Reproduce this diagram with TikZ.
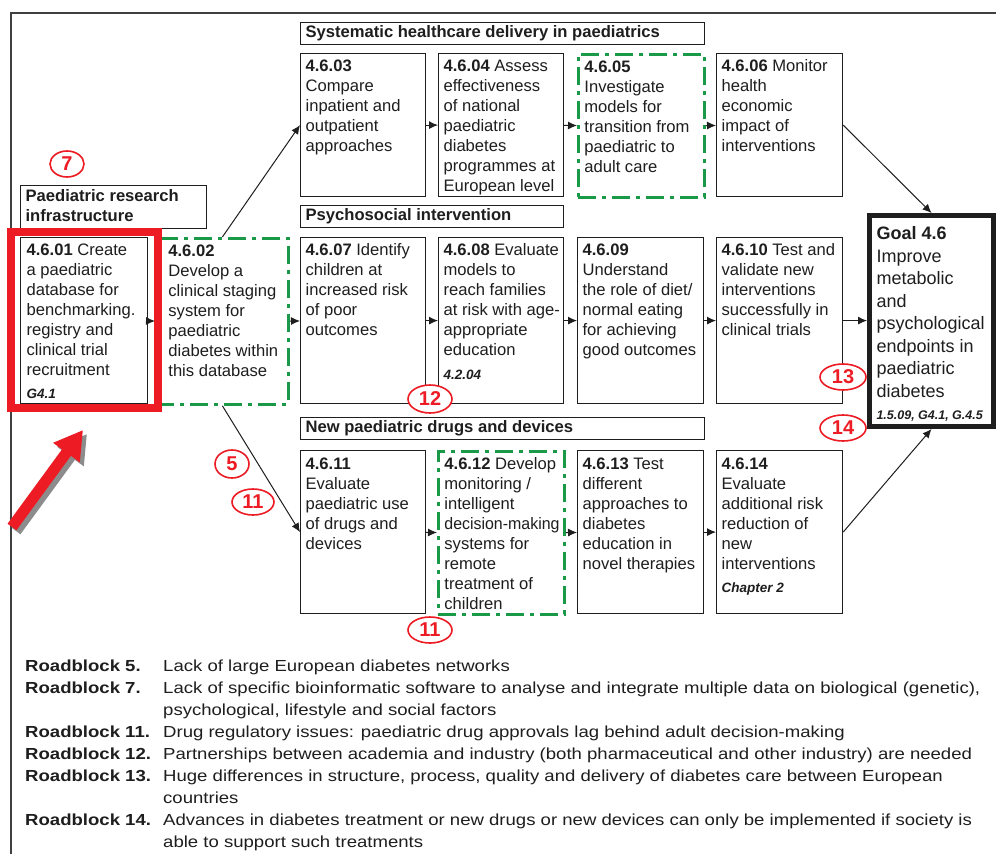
\documentclass[tikz,border=0pt]{standalone}
\usepackage{fontspec}
\setmainfont{Liberation Sans}
\newfontfamily\legendfont[FakeStretch=1.16]{Liberation Sans}
\usetikzlibrary{arrows.meta,shapes.geometric}
\definecolor{rbred}{HTML}{ED1C24}
\definecolor{rbgreen}{HTML}{1A9A48}
\definecolor{ink}{HTML}{1E1E1E}
% box text: #1 width, #2 height, #3 left offset, #4 first-baseline strut, #5 lines
\newcommand{\bxt}[5]{\begin{minipage}[c][#2][t]{#1}\hspace*{#3}\begin{tabular}[t]{@{}l@{}}\rule{0pt}{#4}#5\end{tabular}\end{minipage}}
\newcommand{\hdrt}[3]{\begin{minipage}[c][#2][c]{#1}\hspace*{5pt}\begin{tabular}{@{}l@{}}#3\end{tabular}\end{minipage}}
\newcommand{\refsty}[1]{{\fontsize{13.5}{16}\selectfont\bfseries\itshape #1}}
\newcommand{\goalrefsty}[1]{{\fontsize{12.5}{16}\selectfont\bfseries\itshape #1}}
\begin{document}
\begin{tikzpicture}[x=1pt,y=-1pt,
  box/.style={draw=ink, line width=1.2pt, inner sep=0pt, anchor=north west, text=ink,
              font=\fontsize{16.6}{20}\selectfont},
  gbox/.style={box, draw=rbgreen, line width=2.8pt, dash pattern=on 18pt off 6pt on 4pt off 6pt},
  goalbox/.style={box, line width=5pt, font=\fontsize{18}{22.5}\selectfont},
  hdr/.style={draw=ink, line width=1.2pt, inner sep=0pt, anchor=north west, text=ink,
              font=\bfseries\fontsize{16.6}{20}\selectfont},
  rb/.style={ellipse, draw=rbred, line width=1.6pt, fill=white, text=rbred, inner sep=0pt,
             font=\bfseries\fontsize{20}{20}\selectfont},
  arr/.style={draw=ink, line width=1pt, -{Latex[length=9pt,width=8pt]}},
  bigarrow/.style={line width=11pt, -{Triangle[length=28pt,width=31pt]}}
]
\useasboundingbox (0,0) rectangle (996,854);
\fill[white] (0,0) rectangle (996,854);
% outer frame
\draw[line width=2pt, draw=black!75] (1002,13) -- (10.5,13) -- (10.5,862);

% headers
\node[hdr] (h0) at (20,185) {\hdrt{186pt}{43pt}{Paediatric research\\infrastructure}};
\node[hdr] (h1) at (300,22) {\hdrt{404pt}{22pt}{Systematic healthcare delivery in paediatrics}};
\node[hdr] (h2) at (300,205) {\hdrt{263pt}{22pt}{Psychosocial intervention}};
\node[hdr] (h3) at (300,417) {\hdrt{404pt}{22pt}{New paediatric drugs and devices}};

% top row
\node[box] (n03) at (300,53) {\bxt{125pt}{143pt}{5pt}{18pt}{\textbf{4.6.03}\\Compare\\inpatient and\\outpatient\\approaches}};
\node[box] (n04) at (438,53) {\bxt{125pt}{143pt}{5pt}{18pt}{\textbf{4.6.04} Assess\\effectiveness\\of national\\paediatric\\diabetes\\programmes at\\European level}};
\node[gbox] (n05) at (577,53) {\bxt{126pt}{143pt}{6pt}{18pt}{\textbf{4.6.05}\\Investigate\\models for\\transition from\\paediatric to\\adult care}};
\node[box] (n06) at (716,53) {\bxt{126pt}{143pt}{5pt}{18pt}{\textbf{4.6.06} Monitor\\health\\economic\\impact of\\interventions}};

% middle row
\node[box] (n01) at (20,237) {\bxt{127pt}{166pt}{6pt}{18pt}{\textbf{4.6.01} Create\\a paediatric\\database for\\benchmarking.\\registry and\\clinical trial\\recruitment\\[3pt]\refsty{G4.1}}};
\node[gbox] (n02) at (155,237) {\bxt{132pt}{166pt}{12pt}{18pt}{\textbf{4.6.02}\\Develop a\\clinical staging\\system for\\paediatric\\diabetes within\\this database}};
\node[box] (n07) at (300,237) {\bxt{125pt}{166pt}{5pt}{18pt}{\textbf{4.6.07} Identify\\children at\\increased risk\\of poor\\outcomes}};
\node[box] (n08) at (438,237) {\bxt{125pt}{166pt}{5pt}{18pt}{\textbf{4.6.08} Evaluate\\models to\\reach families\\at risk with age-\\appropriate\\education\\[4pt]\refsty{4.2.04}}};
\node[box] (n09) at (577,237) {\bxt{126pt}{166pt}{5pt}{18pt}{\textbf{4.6.09}\\Understand\\the role of diet/\\normal eating\\for achieving\\good outcomes}};
\node[box] (n10) at (716,237) {\bxt{126pt}{166pt}{5pt}{18pt}{\textbf{4.6.10} Test and\\validate new\\interventions\\successfully in\\clinical trials}};

% bottom row
\node[box] (n11) at (300,450) {\bxt{125pt}{163pt}{5pt}{18.5pt}{\textbf{4.6.11}\\Evaluate\\paediatric use\\of drugs and\\devices}};
\node[gbox] (n12) at (437,450) {\bxt{126pt}{163pt}{6pt}{18.5pt}{\textbf{4.6.12} Develop\\monitoring /\\intelligent\\\scalebox{0.96}[1]{decision-making}\\systems for\\remote\\treatment of\\children}};
\node[box] (n13) at (577,450) {\bxt{126pt}{163pt}{5pt}{18.5pt}{\textbf{4.6.13} Test\\different\\approaches to\\diabetes\\education in\\novel therapies}};
\node[box] (n14) at (716,450) {\bxt{126pt}{163pt}{5pt}{18.5pt}{\textbf{4.6.14}\\Evaluate\\additional risk\\reduction of\\new\\interventions\\[3pt]\refsty{Chapter 2}}};

% goal
\node[goalbox] (goal) at (867,213) {\bxt{124pt}{211pt}{7pt}{24pt}{\textbf{Goal 4.6}\\Improve\\metabolic\\and\\psychological\\endpoints in\\paediatric\\diabetes\\\goalrefsty{1.5.09, G4.1, G.4.5}}};

% red highlight around 4.6.01
\draw[rbred, line width=8pt] (11,232) rectangle (158,408);

% connectors
\draw[arr] (n01) -- (n02);
\draw[arr] (n02) -- (n07);
\draw[arr] (n07) -- (n08);
\draw[arr] (n08) -- (n09);
\draw[arr] (n09) -- (n10);
\draw[arr] (n03) -- (n04);
\draw[arr] (n04) -- (n05);
\draw[arr] (n05) -- (n06);
\draw[arr] (n11) -- (n12);
\draw[arr] (n12) -- (n13);
\draw[arr] (n13) -- (n14);
\draw[arr] (n02.north) -- (n03.west);
\draw[arr] (n02.south) -- (n11.west);
\draw[arr] (n06.east) -- (goal.north);
\draw[arr] (n10.east) -- (n10.east -| goal.west);
\draw[arr] (n14.east) -- (goal.south);

% roadblock circles
\node[rb, minimum width=34pt, minimum height=26pt] (c7) at (67,164) {7};
\node[rb, minimum width=34pt, minimum height=28pt] (c5) at (232,464) {5};
\node[rb, minimum width=42pt, minimum height=26pt] (c11a) at (253,502) {11};
\node[rb, minimum width=44pt, minimum height=28pt] (c12) at (430,399) {12};
\node[rb, minimum width=44pt, minimum height=26pt] (c11b) at (430,630) {11};
\node[rb, minimum width=46pt, minimum height=26pt] (c13) at (843,377) {13};
\node[rb, minimum width=46pt, minimum height=26pt] (c14) at (843,428) {14};

% big red pointer arrow with shadow
\coordinate (sa) at (16,531);
\coordinate (sb) at (87,434);
\coordinate (ra) at (12,527);
\coordinate (rb) at (83,430);
\draw[bigarrow, draw=black!45, fill=black!45] (sa) -- (sb);
\draw[bigarrow, draw=rbred, fill=rbred] (ra) -- (rb);

% legend
\node[anchor=base west, inner sep=0pt, text=ink, font=\legendfont\fontsize{16}{22}\selectfont] (legend) at (25,671) {%
\begin{tabular}[t]{@{}p{138pt}@{}l@{}}
\textbf{Roadblock 5.} & Lack of large European diabetes networks\\
\textbf{Roadblock 7.} & Lack of specific bioinformatic software to analyse and integrate multiple data on biological (genetic),\\
 & psychological, lifestyle and social factors\\
\textbf{Roadblock 11.} & Drug regulatory issues: paediatric drug approvals lag behind adult decision-making\\
\textbf{Roadblock 12.} & Partnerships between academia and industry (both pharmaceutical and other industry) are needed\\
\textbf{Roadblock 13.} & Huge differences in structure, process, quality and delivery of diabetes care between European\\
 & countries\\
\textbf{Roadblock 14.} & Advances in diabetes treatment or new drugs or new devices can only be implemented if society is\\
 & able to support such treatments
\end{tabular}};
\end{tikzpicture}
\end{document}
